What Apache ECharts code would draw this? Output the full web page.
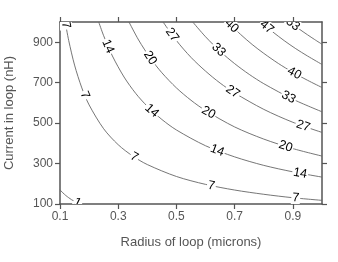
<!DOCTYPE html>
<html>
<head>
<meta charset="utf-8">
<script src="https://cdn.jsdelivr.net/npm/echarts@6/dist/echarts.min.js"></script>
<style>html,body{margin:0;padding:0;background:#fff}#c{width:338px;height:262px}</style>
</head>
<body>
<div id="c"></div>
<script>
// Axis tick labels
const xTicks = [0.1, 0.3, 0.5, 0.7, 0.9];
const yTicks = [100, 300, 500, 700, 900];

// Contour levels (label text) and contour points [radius, current]
const levels = ['1', '7', '14', '20', '27', '33', '40', '47', '53'];
const c1  = [[0.1,170],[0.11,155],[0.12,142],[0.13,131],[0.14,121],[0.15,113],[0.16,106],[0.17,100]];
const c7  = [[0.118,1000],[0.13,908],[0.15,787],[0.175,674],[0.2,590],[0.25,472],[0.3,393],[0.35,337],[0.4,295],[0.5,236],[0.6,197],[0.7,169],[0.8,148],[0.9,131],[1.0,118]];
const c14 = [[0.233,1000],[0.25,932],[0.28,832],[0.32,728],[0.36,647],[0.4,583],[0.45,518],[0.5,466],[0.6,388],[0.7,333],[0.8,291],[0.9,259],[1.0,233]];
const c20 = [[0.337,1000],[0.37,911],[0.41,822],[0.45,749],[0.5,674],[0.55,613],[0.6,562],[0.7,481],[0.8,421],[0.9,374],[1.0,337]];
const c27 = [[0.454,1000],[0.5,908],[0.55,825],[0.6,757],[0.65,698],[0.7,649],[0.8,568],[0.9,504],[1.0,454]];
const c33 = [[0.556,1000],[0.6,927],[0.65,855],[0.7,794],[0.75,741],[0.8,695],[0.9,618],[1.0,556]];
const c40 = [[0.676,1000],[0.72,939],[0.76,889],[0.8,845],[0.85,795],[0.9,751],[0.95,712],[1.0,676]];
const c47 = [[0.79,1000],[0.83,952],[0.87,908],[0.91,868],[0.95,832],[1.0,790]];
const c53 = [[0.89,1000],[0.92,967],[0.95,937],[0.975,913],[1.0,890]];
const contours = [c1, c7, c14, c20, c27, c33, c40, c47, c53];

// Contour label positions [radius, current, level index]
const labelPos = [
  [0.16,106,0],
  [0.12,985,1],[0.185,638,1],[0.355,332,1],[0.62,190,1],[0.91,130,1],
  [0.265,879,2],[0.415,561,2],[0.64,364,2],[0.925,252,2],
  [0.41,822,3],[0.61,552,3],[0.875,385,3],
  [0.485,936,4],[0.693,655,4],[0.935,486,4],
  [0.645,862,5],[0.885,628,5],
  [0.69,980,6],[0.905,747,6],
  [0.81,975,7],
  [0.9,989,8]
];

const FONT = '"Liberation Sans", Arial, sans-serif';
const chart = echarts.init(document.getElementById('c'), null, {renderer: 'canvas'});

const axisCommon = {
  axisLine: {show: true, onZero: false, lineStyle: {color: '#555', width: 1.5}},
  axisTick: {show: true, length: 5, inside: false, lineStyle: {color: '#555', width: 1.2}},
  splitLine: {show: false}
};

const series = contours.map((pts) => ({
  type: 'line',
  data: pts,
  smooth: 0.3,
  showSymbol: false,
  symbol: 'none',
  clip: true,
  lineStyle: {color: '#666', width: 0.9},
  silent: true,
  z: 2
}));

series.push({
  type: 'custom',
  clip: true,
  z: 5,
  data: labelPos,
  renderItem: function (params, api) {
    const x = api.value(0), y = api.value(1), li = api.value(2);
    const pts = contours[li];
    let i = 0;
    while (i < pts.length - 2 && pts[i + 1][0] < x) i++;
    const a = api.coord(pts[i]), b = api.coord(pts[i + 1]);
    let ang = Math.atan2(-(b[1] - a[1]), b[0] - a[0]);
    if (ang > Math.PI / 2) ang -= Math.PI;
    if (ang < -Math.PI / 2) ang += Math.PI;
    const p = api.coord([x, y]);
    return {
      type: 'text',
      x: p[0], y: p[1],
      rotation: ang,
      style: {
        text: levels[li],
        font: '12.5px ' + FONT,
        fill: '#000',
        align: 'center',
        verticalAlign: 'middle',
        backgroundColor: '#fff',
        padding: [0, 1]
      }
    };
  }
});

chart.setOption({
  animation: false,
  backgroundColor: '#fff',
  textStyle: {fontFamily: FONT},
  grid: {left: 60, right: 16, top: 22, bottom: 58, containLabel: false, outerBoundsMode: 'none'},
  xAxis: [
    Object.assign({}, axisCommon, {
      type: 'value', min: 0.1, max: 1.0, position: 'bottom',
      name: 'Radius of loop (microns)', nameLocation: 'middle', nameGap: 32,
      nameTextStyle: {color: '#555', fontSize: 13, fontFamily: FONT},
      axisLabel: {show: true, customValues: xTicks, color: '#555', fontSize: 12, margin: 7,
        formatter: v => v.toFixed(1)},
      axisTick: Object.assign({}, axisCommon.axisTick, {customValues: xTicks})
    }),
    Object.assign({}, axisCommon, {
      type: 'value', min: 0.1, max: 1.0, position: 'top',
      axisLabel: {show: false},
      axisTick: Object.assign({}, axisCommon.axisTick, {customValues: xTicks})
    })
  ],
  yAxis: [
    Object.assign({}, axisCommon, {
      type: 'value', min: 100, max: 1000, position: 'left',
      name: 'Current in loop (nH)', nameLocation: 'middle', nameGap: 44, nameRotate: 90,
      nameTextStyle: {color: '#555', fontSize: 13, fontFamily: FONT},
      axisLabel: {show: true, customValues: yTicks, color: '#555', fontSize: 12, margin: 7},
      axisTick: Object.assign({}, axisCommon.axisTick, {customValues: yTicks})
    }),
    Object.assign({}, axisCommon, {
      type: 'value', min: 100, max: 1000, position: 'right',
      axisLabel: {show: false},
      axisTick: Object.assign({}, axisCommon.axisTick, {customValues: yTicks})
    })
  ],
  series: series
});
</script>
</body>
</html>
